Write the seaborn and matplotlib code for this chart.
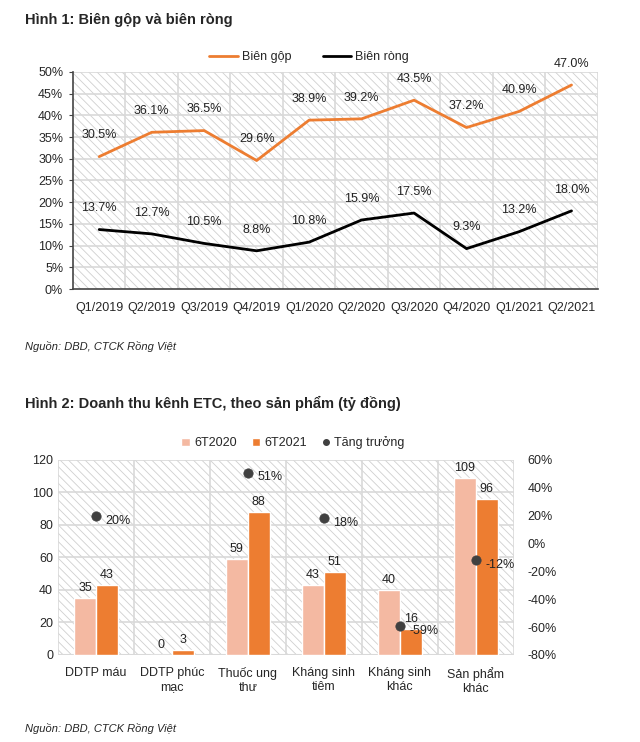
import numpy as np
import pandas as pd
import matplotlib
matplotlib.use('Agg')
import matplotlib.pyplot as plt
from matplotlib.patches import Rectangle, Patch
from matplotlib.lines import Line2D
import seaborn as sns

# --------------------- DATA ----------------------
quarters = ['Q1/2019', 'Q2/2019', 'Q3/2019', 'Q4/2019', 'Q1/2020',
            'Q2/2020', 'Q3/2020', 'Q4/2020', 'Q1/2021', 'Q2/2021']
bien_gop = [30.5, 36.1, 36.5, 29.6, 38.9, 39.2, 43.5, 37.2, 40.9, 47.0]
bien_rong = [13.7, 12.7, 10.5, 8.8, 10.8, 15.9, 17.5, 9.3, 13.2, 18.0]

products = ['DDTP máu', 'DDTP phúc\nmạc', 'Thuốc ung\nthư', 'Kháng sinh\ntiêm',
            'Kháng sinh\nkhác', 'Sản phẩm\nkhác']
rev_2020 = [35, 0, 59, 43, 40, 109]
rev_2021 = [43, 3, 88, 51, 16, 96]
growth = [20, np.nan, 51, 18, -59, -12]

ORANGE = '#ED7D31'
SALMON = '#F4B9A2'
GRID = '#d9d9d9'
DOT = '#404040'
FS = 9

sns.set_style('white')
plt.rcParams['font.family'] = ['Liberation Sans Narrow', 'Liberation Sans', 'DejaVu Sans']
plt.rcParams['hatch.linewidth'] = 0.6
plt.rcParams['hatch.color'] = '#cfcfcf'

fig = plt.figure(figsize=(6.4, 7.42), dpi=100)


def hatch_bg(ax):
    ax.add_patch(Rectangle((0, 0), 1, 1, transform=ax.transAxes, facecolor='white',
                           edgecolor='#cfcfcf', hatch='\\\\\\\\', lw=0, zorder=0))


# --------------------- CHART 1 ----------------------
ax1 = fig.add_axes([0.114, 0.6105, 0.820, 0.2925])
hatch_bg(ax1)
df1 = pd.DataFrame({'q': range(len(quarters)), 'gop': bien_gop, 'rong': bien_rong})
sns.lineplot(data=df1, x='q', y='gop', ax=ax1, color=ORANGE, lw=2, zorder=3)
sns.lineplot(data=df1, x='q', y='rong', ax=ax1, color='black', lw=2, zorder=3)
for i, (g, r) in enumerate(zip(bien_gop, bien_rong)):
    ax1.annotate(f'{g:.1f}%', (i, g), xytext=(0, 11), textcoords='offset points',
                 ha='center', va='bottom', fontsize=FS, color='#222222')
    ax1.annotate(f'{r:.1f}%', (i, r), xytext=(0, 11), textcoords='offset points',
                 ha='center', va='bottom', fontsize=FS, color='#222222')
ax1.set_xlim(-0.5, len(quarters) - 0.5)
ax1.set_ylim(0, 50)
ax1.set_yticks(range(0, 51, 5))
ax1.set_yticklabels([f'{v}%' for v in range(0, 51, 5)])
ax1.set_xticks(range(len(quarters)))
ax1.set_xticklabels(quarters)
ax1.set_xticks(np.arange(-0.5, len(quarters), 1), minor=True)
ax1.tick_params(axis='x', which='major', length=0, labelsize=FS, pad=9)
ax1.tick_params(axis='x', which='minor', length=4, color='#444444')
ax1.tick_params(axis='y', length=3, color='#444444', labelsize=FS, left=True, pad=4)
ax1.set_xlabel('')
ax1.set_ylabel('')
for y in range(5, 51, 5):
    ax1.axhline(y, color=GRID, lw=1.2, zorder=1)
for x in np.arange(0.5, len(quarters) - 0.5, 1):
    ax1.axvline(x, color=GRID, lw=1.2, zorder=1)
ax1.axvline(len(quarters) - 0.5, color=GRID, lw=1.2, zorder=1)
for s in ['top', 'right']:
    ax1.spines[s].set_visible(False)
for s in ['left', 'bottom']:
    ax1.spines[s].set_color('#444444')
    ax1.spines[s].set_linewidth(1.2)

fig.legend(handles=[Line2D([], [], color=ORANGE, lw=2, label='Biên gộp'),
                    Line2D([], [], color='black', lw=2, label='Biên ròng')],
           loc='center', bbox_to_anchor=(309 / 640, 1 - 57 / 742), ncol=2,
           frameon=False, fontsize=FS, handlelength=2.3, columnspacing=2.5, handletextpad=0.3)

fig.text(25 / 640, 1 - 20 / 742, 'Hình 1: Biên gộp và biên ròng', fontsize=10.5,
         fontweight='bold', va='center', ha='left')
fig.text(25 / 640, 1 - 347 / 742, 'Nguồn: DBD, CTCK Rồng Việt', fontsize=8,
         style='italic', va='center', ha='left')

# --------------------- CHART 2 ----------------------
ax2 = fig.add_axes([0.0906, 0.1173, 0.712, 0.2628])
hatch_bg(ax2)
df2 = pd.DataFrame({'product': products * 2,
                    'value': rev_2020 + rev_2021,
                    'period': ['6T2020'] * len(products) + ['6T2021'] * len(products)})
sns.barplot(data=df2, x='product', y='value', hue='period', ax=ax2,
            palette=[SALMON, ORANGE], width=0.58, legend=False, zorder=3,
            saturation=1)
for c in ax2.containers:
    ax2.bar_label(c, fmt='%.0f', padding=3, fontsize=FS, color='#222222')
ax2.set_ylim(0, 120)
ax2.set_xlim(-0.5, len(products) - 0.5)
ax2.set_yticks(range(0, 121, 20))
ax2.set_xlabel('')
ax2.set_ylabel('')
ax2.tick_params(axis='both', length=0, labelsize=FS)
ax2.tick_params(axis='x', pad=9)
for y in range(20, 121, 20):
    ax2.axhline(y, color=GRID, lw=1.2, zorder=1)
for x in np.arange(0.5, len(products) - 0.5, 1):
    ax2.axvline(x, color=GRID, lw=1.2, zorder=1)
ax2.set_xticks(np.arange(-0.5, len(products), 1), minor=True)
ax2.tick_params(axis='x', which='minor', length=5, color=GRID, width=1.2)
for s in ax2.spines.values():
    s.set_visible(False)
ax2.axhline(0, color=GRID, lw=1.5, zorder=2)
ax2.axvline(-0.5, color=GRID, lw=1.2, zorder=1)
ax2.axvline(len(products) - 0.5, color=GRID, lw=1.2, zorder=1)

ax3 = ax2.twinx()
df3 = pd.DataFrame({'x': range(len(products)), 'g': growth}).dropna()
sns.scatterplot(data=df3, x='x', y='g', ax=ax3, color=DOT, s=45, edgecolor=DOT, zorder=5)
for _, row in df3.iterrows():
    ax3.annotate(f"{row['g']:.0f}%", (row['x'], row['g']), xytext=(7, -3.5),
                 textcoords='offset points', ha='left', va='center', fontsize=FS, color='#222222')
ax3.set_ylim(-80, 60)
ax3.set_yticks(range(-80, 61, 20))
ax3.set_yticklabels([f'{v}%' for v in range(-80, 61, 20)])
ax3.set_xlabel('')
ax3.set_ylabel('')
ax3.tick_params(axis='y', length=0, labelsize=FS, pad=10)
for s in ax3.spines.values():
    s.set_visible(False)

fig.legend(handles=[Patch(facecolor=SALMON, label='6T2020'),
                    Patch(facecolor=ORANGE, label='6T2021'),
                    Line2D([], [], marker='o', color=DOT, lw=0, markersize=4, label='Tăng trưởng')],
           loc='center', bbox_to_anchor=(293 / 640, 1 - 443 / 742), ncol=3,
           frameon=False, fontsize=FS, handlelength=0.7, handleheight=0.7,
           columnspacing=1.2, handletextpad=0.3)

fig.text(25 / 640, 1 - 403 / 742, 'Hình 2: Doanh thu kênh ETC, theo sản phẩm (tỷ đồng)',
         fontsize=10.5, fontweight='bold', va='center', ha='left')
fig.text(25 / 640, 1 - 728 / 742, 'Nguồn: DBD, CTCK Rồng Việt', fontsize=8,
         style='italic', va='center', ha='left')

fig.savefig('out.png', dpi=100)
plt.close(fig)
